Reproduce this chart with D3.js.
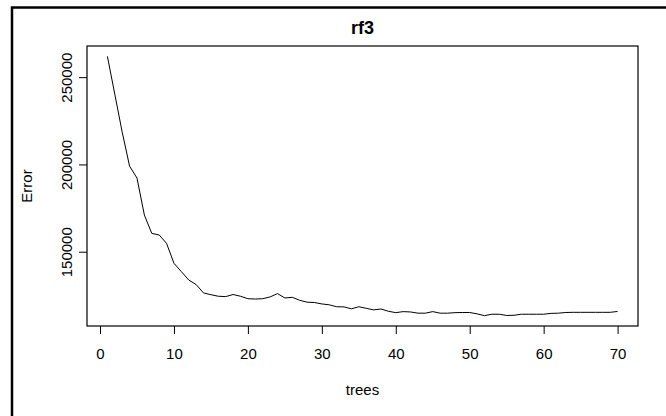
<!DOCTYPE html>
<html>
<head>
<meta charset="utf-8">
<script src="https://cdn.jsdelivr.net/npm/d3@7"></script>
<style>
  body { margin: 0; background: #fff; }
  text { font-family: "Liberation Sans", Arial, sans-serif; }
</style>
</head>
<body>
<div id="chart"></div>
<script>
// OOB error by number of trees
const errors = [
    261900, 240200, 218500, 199000, 192200, 171000, 160500, 159600, 154800, 143400,
    138600, 133800, 131200, 126400, 125400, 124500, 124300, 125500, 124500, 123100,
    122900, 123100, 124100, 126000, 123500, 123900, 122200, 121100, 120900, 120100,
    119600, 118500, 118400, 117300, 118500, 117600, 116700, 117200, 115900, 115100,
    115700, 115500, 114800, 114800, 115700, 114800, 114800, 115100, 115200, 115200,
    114400, 113400, 114200, 114200, 113500, 113600, 114200, 114200, 114200, 114200,
    114700, 114800, 115200, 115300, 115300, 115300, 115300, 115300, 115300, 115800
];
const trees = errors.map((d, i) => i + 1);
const xTicks = [0, 10, 20, 30, 40, 50, 60, 70];
const yTicks = [150000, 200000, 250000];

const width = 666;
const height = 416;
const box = { left: 87, right: 638, top: 46, bottom: 326 };

// R pads the data range by 4% on each side
function pad(ext) {
    const p = (ext[1] - ext[0]) * 0.04;
    return [ext[0] - p, ext[1] + p];
}

const x = d3.scaleLinear().domain(pad(d3.extent(trees))).range([box.left, box.right]);
const y = d3.scaleLinear().domain(pad(d3.extent(errors))).range([box.bottom, box.top]);

const svg = d3.select("#chart")
    .append("svg")
    .attr("width", width)
    .attr("height", height);

svg.append("rect")
    .attr("width", width)
    .attr("height", height)
    .attr("fill", "#fff");

// frame of the screenshot (only top and left edges visible)
svg.append("rect")
    .attr("x", 12)
    .attr("y", 7.5)
    .attr("width", width + 20)
    .attr("height", height + 20)
    .attr("fill", "none")
    .attr("stroke", "#000")
    .attr("stroke-width", 2.5);

// x axis
const xAxis = svg.append("g")
    .attr("transform", "translate(0," + box.bottom + ")")
    .call(d3.axisBottom(x).tickValues(xTicks).tickSize(8).tickPadding(14).tickFormat(d3.format("d")));
xAxis.select(".domain").remove();
xAxis.selectAll("line").attr("stroke", "#000");
xAxis.selectAll("text")
    .attr("fill", "#000")
    .style("font-size", "15px");

// y axis, labels rotated like R's default
const yAxis = svg.append("g")
    .attr("transform", "translate(" + box.left + ",0)")
    .call(d3.axisLeft(y).tickValues(yTicks).tickSize(8).tickFormat(d3.format("d")));
yAxis.select(".domain").remove();
yAxis.selectAll("line").attr("stroke", "#000");
yAxis.selectAll("text")
    .attr("fill", "#000")
    .style("font-size", "15px")
    .attr("x", 0)
    .attr("y", -15)
    .attr("dy", 0)
    .attr("text-anchor", "middle")
    .attr("transform", "rotate(-90)");

// plot box
svg.append("rect")
    .attr("x", box.left)
    .attr("y", box.top)
    .attr("width", box.right - box.left)
    .attr("height", box.bottom - box.top)
    .attr("fill", "none")
    .attr("stroke", "#000")
    .attr("stroke-width", 1.2);

// error line
const line = d3.line()
    .x((d, i) => x(trees[i]))
    .y(d => y(d));

svg.append("path")
    .datum(errors)
    .attr("fill", "none")
    .attr("stroke", "#000")
    .attr("stroke-width", 1)
    .attr("d", line);

// titles
svg.append("text")
    .attr("x", (box.left + box.right) / 2)
    .attr("y", 34)
    .attr("text-anchor", "middle")
    .style("font-size", "18px")
    .style("font-weight", "bold")
    .text("rf3");

svg.append("text")
    .attr("x", (box.left + box.right) / 2)
    .attr("y", 395)
    .attr("text-anchor", "middle")
    .style("font-size", "15px")
    .text("trees");

svg.append("text")
    .attr("transform", "translate(32," + (box.top + box.bottom) / 2 + ") rotate(-90)")
    .attr("text-anchor", "middle")
    .style("font-size", "15px")
    .text("Error");
</script>
</body>
</html>
